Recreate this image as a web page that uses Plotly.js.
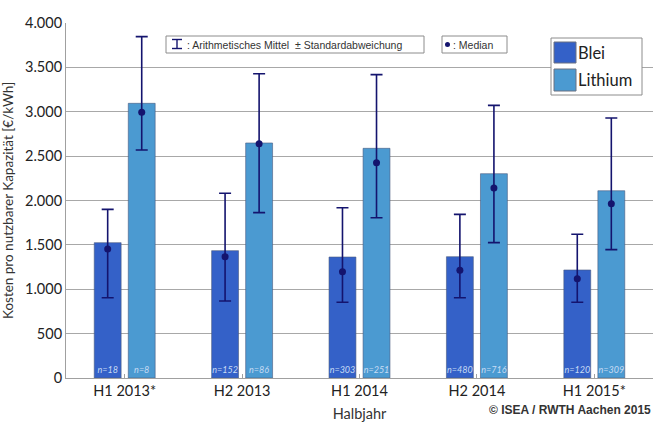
<!DOCTYPE html>
<html><head><meta charset="utf-8">
<script src="https://cdn.plot.ly/plotly-3.0.1.min.js"></script>
<style>body{margin:0;background:#fff}#c{width:671px;height:430px}</style>
</head><body><div id="c"></div>
<script>
const categories = ["H1 2013*", "H2 2013", "H1 2014", "H2 2014", "H1 2015*"];
const bleiMean   = [1525, 1435, 1363, 1367, 1217];
const bleiUpper  = [1900, 2081, 1919, 1844, 1619];
const bleiLower  = [905, 868, 853, 905, 853];
const bleiMedian = [1453, 1367, 1198, 1213, 1119];
const bleiN      = ["n=18", "n=152", "n=303", "n=480", "n=120"];
const liMean     = [3095, 2648, 2588, 2302, 2110];
const liUpper    = [3846, 3429, 3418, 3072, 2930];
const liLower    = [2569, 1863, 1806, 1525, 1446];
const liMedian   = [2994, 2640, 2426, 2141, 1964];
const liN        = ["n=8", "n=86", "n=251", "n=716", "n=309"];
const seriesNames = ["Blei", "Lithium"];

const BLEI = "#3461c8", LI = "#4b9ad1", NAVY = "#14146e";
const sub = (a, b) => a.map((v, i) => v - b[i]);

function barTrace(name, mean, up, lo, n, color, grp) {
  return {
    type: "bar", name: name, x: categories, y: mean, offsetgroup: grp, showlegend: false,
    marker: {color: color, line: {color: "#4a5a80", width: 0.6}},
    text: n, textposition: "inside", insidetextanchor: "start", textangle: 0,
    textfont: {family: "Lato, sans-serif", size: 9, style: "italic", color: "#c8dcf4"},
    constraintext: "none",
    error_y: {type: "data", symmetric: false, array: sub(up, mean), arrayminus: sub(mean, lo),
      color: NAVY, thickness: 1.6, width: 6},
    hoverinfo: "skip"
  };
}
function medTrace(name, med, grp) {
  return {type: "scatter", mode: "markers", name: name, x: categories, y: med, offsetgroup: grp,
    marker: {color: NAVY, size: 7}, showlegend: false, hoverinfo: "skip"};
}

const L = 66, R = 653, T = 23, B = 378;
const px = v => (v - L) / (R - L);
const py = v => (B - v) / (B - T);
const pline = (x0, y0, x1, y1) => ({type: "line", xref: "paper", yref: "paper",
  x0: px(x0), x1: px(x1), y0: py(y0), y1: py(y1), line: {color: NAVY, width: 1.4}});
const prect = (x0, y0, x1, y1, fill, lc) => ({type: "rect", xref: "paper", yref: "paper",
  x0: px(x0), x1: px(x1), y0: py(y0), y1: py(y1), line: {color: lc, width: 1}, fillcolor: fill});

const shapes = [
  prect(166, 36, 424, 53, "#fff", "#8c8c8c"),
  pline(172, 39.5, 182, 39.5), pline(172, 48.5, 182, 48.5), pline(177, 39.5, 177, 48.5),
  prect(442, 36, 507, 53, "#fff", "#8c8c8c"),
  {type: "circle", xref: "paper", yref: "paper", x0: px(445), x1: px(450), y0: py(42), y1: py(47),
    line: {color: NAVY, width: 0}, fillcolor: NAVY},
  // series legend
  prect(551, 38, 642, 95, "#fff", "#8c8c8c"),
  prect(554, 42, 576, 63, BLEI, "#6a7080"),
  prect(554, 69, 576, 91, LI, "#6a7080")
];

const annotations = [
  {xref: "paper", yref: "paper", x: px(185), y: py(44.5), xanchor: "left", yanchor: "middle", showarrow: false,
    text: ": Arithmetisches Mittel  \u00b1 Standardabweichung", font: {family: "Arial, Liberation Sans", size: 10.5, color: "#333"}},
  {xref: "paper", yref: "paper", x: px(451), y: py(44.5), xanchor: "left", yanchor: "middle", showarrow: false,
    text: ": Median", font: {family: "Arial, Liberation Sans", size: 10.5, color: "#333"}},
  {xref: "paper", yref: "paper", x: px(576), y: py(53), xanchor: "left", yanchor: "middle", showarrow: false,
    text: seriesNames[0], font: {family: "Lato, sans-serif", size: 16.5, color: "#222"}},
  {xref: "paper", yref: "paper", x: px(576), y: py(80), xanchor: "left", yanchor: "middle", showarrow: false,
    text: seriesNames[1], font: {family: "Lato, sans-serif", size: 16.5, color: "#222"}},
  {xref: "paper", yref: "paper", x: 1, y: py(410), xanchor: "right", yanchor: "middle", showarrow: false,
    text: "<b>\u00a9 ISEA / RWTH Aachen 2015</b>", font: {family: "Arial, Liberation Sans", size: 12, color: "#333"}}
];

const data = [
  barTrace(seriesNames[0], bleiMean, bleiUpper, bleiLower, bleiN, BLEI, "b"),
  barTrace(seriesNames[1], liMean, liUpper, liLower, liN, LI, "l"),
  medTrace("Median " + seriesNames[0], bleiMedian, "b"),
  medTrace("Median " + seriesNames[1], liMedian, "l")
];

const layout = {
  width: 671, height: 430,
  margin: {l: L, r: 671 - R, t: T, b: 430 - B},
  paper_bgcolor: "#fff", plot_bgcolor: "#fff",
  separators: ",.",
  barmode: "group", bargap: 0.42, bargroupgap: 0.21, scattermode: "group",
  font: {family: "Lato, sans-serif", color: "#333"},
  showlegend: false,
  xaxis: {type: "category", showgrid: false, showline: true, linecolor: "#a0a0a0", linewidth: 1,
    ticks: "inside", ticklen: 4, tickcolor: "#a0a0a0", tickfont: {size: 14.5, color: "#222"},
    title: {text: "Halbjahr", font: {size: 14.5, color: "#333"}, standoff: 10}},
  yaxis: {range: [0, 4000], dtick: 500, tickformat: ",d", showgrid: true, gridcolor: "#a8a8a8", gridwidth: 1,
    showline: true, linecolor: "#a0a0a0", zeroline: false, ticks: "", tickfont: {size: 14.5, color: "#222"},
    title: {text: "Kosten pro nutzbarer Kapazität [€/kWh]", font: {size: 13.5, color: "#333"}, standoff: 8}},
  shapes: shapes, annotations: annotations
};

Plotly.newPlot("c", data, layout, {staticPlot: true});
</script></body></html>
